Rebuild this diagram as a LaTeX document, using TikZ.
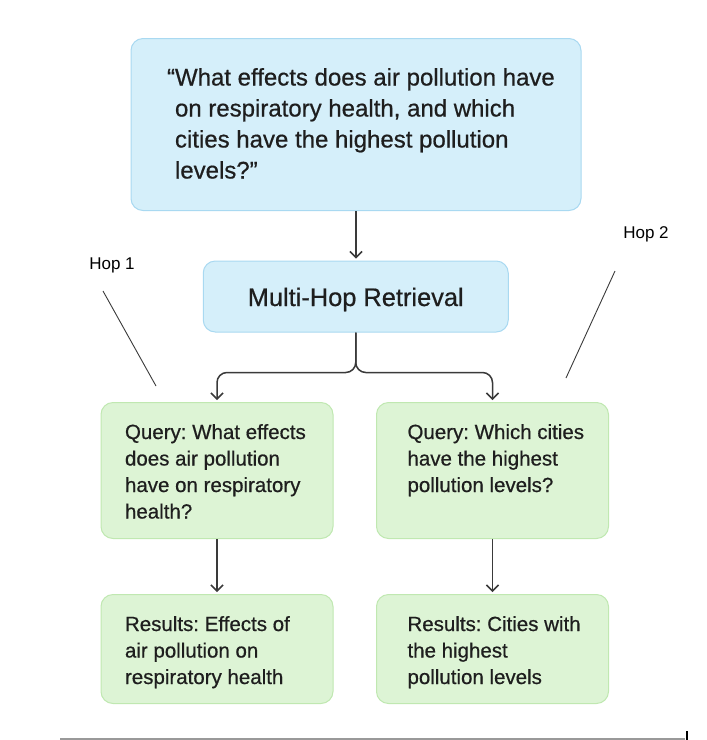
\documentclass[tikz,border=0pt]{standalone}
\usepackage{fontspec}
\setmainfont{Liberation Sans}
\newfontfamily\boxface{Liberation Sans}[FakeBold=0.6]
\usetikzlibrary{arrows.meta}

\definecolor{bluefill}{HTML}{D5EFFA}
\definecolor{blueline}{HTML}{A9D9F1}
\definecolor{greenfill}{HTML}{DDF4D5}
\definecolor{greenline}{HTML}{C0E8B1}
\definecolor{ink}{HTML}{1E1E1E}
\definecolor{wire}{HTML}{3A3A3A}

\def\askfont{\boxface\fontsize{24}{31}\selectfont}
\def\headfont{\boxface\fontsize{25.4}{30}\selectfont}
\def\stepfont{\boxface\fontsize{20.5}{26.5}\selectfont}
\def\hopfont{\fontsize{17}{20}\selectfont}

\tikzset{
  panel/.style={rounded corners=12pt, line width=1pt, align=left, inner xsep=10pt, text=ink},
  bluepanel/.style={panel, draw=blueline, fill=bluefill},
  greenpanel/.style={panel, draw=greenline, fill=greenfill, font=\stepfont,
    text width=212pt, inner ysep=21.5pt, text height=15pt, anchor=north},
  hang/.style={execute at begin node={\leftskip=#1\spaceskip=0pt\xspaceskip=0pt\frenchspacing\relax}},
  flow/.style={draw=wire, line width=1.5pt, -{Straight Barb[length=6pt,width=12pt]}, shorten >=2pt},
  hopline/.style={draw=wire, line width=0.9pt},
}

\begin{document}
\begin{tikzpicture}[x=1pt, y=-1pt]
\useasboundingbox (0,0) rectangle (707,740);

% question and retrieval step
\node[bluepanel, font=\askfont, text width=430pt, inner ysep=29pt, text height=18pt,
  text depth=96pt, hang=34pt, anchor=north] (question) at (356,38)
  {\llap{“}What effects does air pollution have\par on respiratory health, and which\par
   cities have the highest pollution\par levels?”};
\node[bluepanel, font=\headfont, align=center, minimum width=305pt, minimum height=71pt,
  text height=19pt, text depth=0pt] (retrieval) at (355.75,296.5) {Multi-Hop Retrieval};

% the two hops
\node[greenpanel, text depth=78pt, hang=14pt] (hop1 query) at (217,402)
  {Query: What effects\par does air pollution\par have on respiratory\par health?};
\node[greenpanel, text depth=78pt, hang=21pt] (hop2 query) at (492.5,402)
  {Query: Which cities\par have the highest\par pollution levels?};
\node[greenpanel, text depth=51pt, hang=14pt] (hop1 result) at (217,594)
  {Results: Effects of\par air pollution on\par respiratory health};
\node[greenpanel, text depth=51pt, hang=21pt] (hop2 result) at (492.5,594)
  {Results: Cities with\par the highest\par pollution levels};

\draw[flow] (question.south) -- (question.south |- retrieval.north);
\draw[flow, rounded corners=10pt] (retrieval.south) -- ++(0,40) -| (hop1 query.north);
\draw[flow, rounded corners=10pt] (retrieval.south) -- ++(0,40) -| (hop2 query.north);
\draw[flow] (hop1 query.south) -- (hop1 result.north);
\draw[flow] (hop2 query.south) -- (hop2 result.north);

% hop labels
\node[font=\hopfont] (hop1) at (112,265) {Hop 1};
\node[font=\hopfont] (hop2) at (646,234.5) {Hop 2};
\coordinate (hop1 from) at (103,291);
\coordinate (hop1 to) at (156,386);
\coordinate (hop2 from) at (615,271);
\coordinate (hop2 to) at (566,378);
\draw[hopline] (hop1 from) -- (hop1 to);
\draw[hopline] (hop2 from) -- (hop2 to);

% rule at the bottom
\coordinate (rule start) at (60,739);
\coordinate (rule end) at (685,739);
\draw[black!40, line width=1.2pt] (rule start) -- (rule end);
\draw[black, line width=2pt] (687,731) -- (687,740);
\end{tikzpicture}
\end{document}
